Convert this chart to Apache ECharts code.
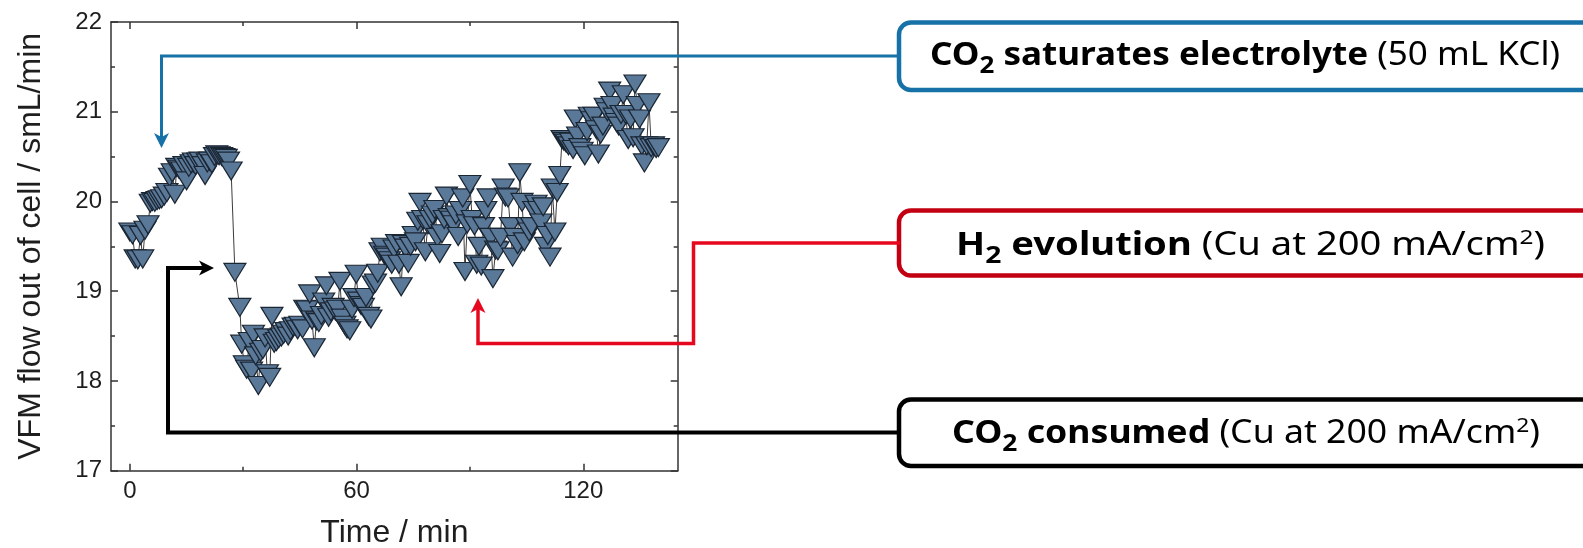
<!DOCTYPE html>
<html>
<head>
<meta charset="utf-8">
<title>VFM flow out of cell</title>
<script src="https://cdn.jsdelivr.net/npm/echarts@6/dist/echarts.min.js"></script>
<style>
  html, body { margin: 0; padding: 0; background: #ffffff; }
  #chart { width: 1583px; height: 548px; }
</style>
</head>
<body>
<div id="chart"></div>
<script>
// Measured flow out of the cell (smL/min) against elapsed time (min)
const timeMin = [
  0.0, 0.7, 1.4, 2.1, 2.8, 3.4, 4.0, 4.8, 5.4, 6.0, 6.6, 7.2, 7.8, 8.4, 9.1, 9.8,
  10.5, 11.2, 11.9, 12.4, 13.0, 13.7, 14.3, 15.0, 15.6, 16.2, 16.8, 17.4, 18.0, 18.6,
  19.3, 19.9, 20.5, 21.1, 21.7, 22.4, 23.0, 23.6, 24.3, 24.9, 25.5, 26.1, 26.8,
  27.8, 29.1, 29.6, 30.3, 30.9, 31.6, 32.2, 32.7, 33.3, 34.0, 34.6, 35.2, 35.8, 36.4,
  37.0, 37.6, 38.2, 38.8, 39.4, 40.1, 40.7, 41.3, 41.9, 42.5, 43.2, 43.8, 44.4, 45.0,
  45.7, 46.3, 46.9, 47.6, 48.2, 48.8, 49.4, 50.0, 50.7, 51.3, 52.0, 52.6, 53.2, 53.8,
  54.4, 55.0, 55.6, 56.2, 56.9, 57.5, 58.2, 58.8, 59.3, 59.9, 60.5, 61.2, 61.8, 62.5,
  63.2, 63.8, 64.4, 65.0, 65.6, 66.2, 66.8, 67.4, 68.0, 68.7, 69.3, 69.9, 70.6, 71.2,
  71.8, 72.4, 73.0, 73.7, 74.3, 75.0, 75.6, 76.2, 76.8, 77.5, 78.2, 78.9, 79.5, 80.1,
  80.7, 81.4, 82.0, 82.6, 83.2, 83.8, 84.5, 85.1, 85.7, 86.3, 86.9, 87.5, 88.1, 88.7,
  89.3, 90.0, 90.6, 91.2, 91.8, 92.4, 93.0, 93.6, 94.2, 94.8, 95.5, 96.1, 96.8, 97.4,
  98.1, 98.8, 99.4, 100.1, 100.7, 101.3, 101.9, 102.6, 103.2, 103.8, 104.4, 105.0,
  105.7, 106.3, 106.9, 107.5, 108.2, 108.8, 109.4, 110.0, 110.6, 111.2, 111.8, 112.5,
  113.1, 113.8, 114.4, 114.9, 115.5, 116.1, 116.7, 117.3, 117.9, 118.5, 119.1, 119.7,
  120.4, 121.0, 121.6, 122.3, 122.9, 123.5, 124.0, 124.6, 125.2, 125.8, 126.4, 127.0,
  127.6, 128.2, 128.8, 129.4, 130.0, 130.6, 131.2, 131.9, 132.5, 133.2, 133.7, 134.3,
  134.9, 135.5, 136.2, 136.8, 137.4, 138.0, 138.6, 139.3, 139.9
];
const flowOut = [
  19.66, 19.63, 19.36, 19.35, 19.62, 19.36, 19.68, 19.74, 19.98, 20.00, 19.99, 20.01, 20.02, 20.03, 20.06, 20.10,
  20.27, 20.32, 20.08, 20.38, 20.36, 20.34, 20.40, 20.23, 20.38, 20.42, 20.44, 20.40, 20.44, 20.45,
  20.40, 20.29, 20.43, 20.45, 20.42, 20.50, 20.52, 20.51, 20.50, 20.49, 20.48, 20.45, 20.34,
  19.21, 18.82, 18.41, 18.18, 18.13, 18.44, 18.11, 18.52, 18.28, 17.95, 18.32, 18.35, 18.48, 18.08,
  18.04, 18.72, 18.42, 18.44, 18.47, 18.49, 18.52, 18.55, 18.50, 18.56, 18.60, 18.61, 18.57, 18.62,
  18.58, 18.80, 18.79, 18.97, 18.68, 18.37, 18.67, 18.65, 18.73, 18.88, 19.06, 18.71, 18.77, 18.82,
  18.78, 18.80, 19.11, 18.70, 18.62, 18.58, 18.56, 18.80, 18.93, 19.19, 18.89, 18.84, 18.82, 18.93,
  18.72, 18.69, 19.07, 19.09, 19.20, 19.44, 19.49, 19.40, 19.38, 19.34, 19.30, 19.47, 19.53, 19.30,
  19.05, 19.52, 19.48, 19.31, 19.50, 19.62, 19.55, 19.78, 19.99, 19.80, 19.44, 19.74, 19.80, 19.85,
  19.91, 19.60, 19.42, 19.64, 19.80, 20.06, 19.82, 19.79, 19.74, 19.85, 19.61, 19.90, 20.04, 19.22,
  19.75, 20.19, 19.80, 19.73, 19.30, 19.50, 19.28, 19.72, 19.90, 20.04, 19.60, 19.14, 19.46, 19.45,
  19.60, 20.15, 20.05, 20.04, 19.72, 19.38, 19.60, 19.52, 20.32, 19.99, 19.55, 19.72,
  19.66, 19.72, 19.90, 19.97, 19.90, 19.76, 19.94, 19.50, 19.62, 19.38, 20.15, 19.66,
  20.10, 20.29, 20.69, 20.67, 20.65, 20.62, 20.66, 20.58, 20.92, 20.73, 20.60, 20.56,
  20.51, 20.78, 20.95, 20.90, 20.95, 20.80, 20.53, 20.75, 20.84, 21.05, 21.00, 21.23,
  21.07, 20.94, 20.88, 20.84, 20.97, 21.19, 20.97, 20.69, 20.92, 20.71, 21.31, 21.07,
  20.92, 20.62, 20.43, 20.62, 21.10, 20.60, 20.62, 20.59, 20.60
];

// Axis tick positions
const xMajorTicks = [0, 60, 120];
const xMinorTicks = [30, 90];

const axisColor = '#333333';
const textColor = '#1e1e1e';
const axisFont = '"Liberation Sans", Arial, sans-serif';
const noteFont = '"Noto Sans", "Open Sans", sans-serif';

const points = timeMin.map((t, i) => [t, flowOut[i]]);

function xAxisDef(position, ticks, tickLen, withLine, withLabels) {
  const def = {
    type: 'value', position: position, min: -5, max: 145,
    axisLine: { show: withLine, onZero: false, lineStyle: { color: axisColor, width: 1.5 } },
    axisTick: { show: true, inside: true, length: tickLen, customValues: ticks,
                lineStyle: { color: axisColor, width: 1.5 } },
    axisLabel: withLabels
      ? { show: true, customValues: ticks, fontSize: 24, color: textColor, margin: 9, fontFamily: axisFont }
      : { show: false },
    splitLine: { show: false }, minorTick: { show: false }, minorSplitLine: { show: false }
  };
  if (withLabels) {
    def.name = 'Time / min';
    def.nameLocation = 'middle';
    def.nameGap = 46;
    def.nameTextStyle = { fontSize: 32, color: textColor, fontFamily: axisFont };
  }
  return def;
}

function yAxisDef(position, withLabels) {
  const def = {
    type: 'value', position: position, min: 17, max: 22, interval: 1,
    axisLine: { show: true, onZero: false, lineStyle: { color: axisColor, width: 1.5 } },
    axisTick: { show: true, inside: true, length: 7, lineStyle: { color: axisColor, width: 1.5 } },
    minorTick: { show: true, splitNumber: 2, length: 4, lineStyle: { color: axisColor, width: 1.5 } },
    axisLabel: withLabels
      ? { show: true, fontSize: 24, color: textColor, margin: 9, fontFamily: axisFont }
      : { show: false },
    splitLine: { show: false }, minorSplitLine: { show: false }
  };
  if (withLabels) {
    def.name = 'VFM flow out of cell / smL/min';
    def.nameLocation = 'middle';
    def.nameGap = 64;
    def.nameTextStyle = { fontSize: 32, color: textColor, fontFamily: axisFont };
  }
  return def;
}

// ---- annotation text: bold lead, sub/superscripts, regular remainder ----
const measureCtx = document.createElement('canvas').getContext('2d');
function fontStr(bold, size) {
  return (bold ? 'bold ' : 'normal ') + size.toFixed(2) + 'px ' + noteFont;
}
function middleToBaseline(bold, size) {
  measureCtx.font = fontStr(bold, size);
  measureCtx.textBaseline = 'alphabetic';
  const a = measureCtx.measureText('H').actualBoundingBoxAscent;
  measureCtx.textBaseline = 'middle';
  const b = measureCtx.measureText('H').actualBoundingBoxAscent;
  return a - b;
}
function pieceSize(p, size) {
  return p.script === 'sub' ? size * 0.74 : (p.script === 'sup' ? size * 0.64 : size);
}
function runWidth(parts, size) {
  return parts.reduce((acc, p) => {
    measureCtx.font = fontStr(p.bold, pieceSize(p, size));
    return acc + measureCtx.measureText(p.text).width;
  }, 0);
}
// text run laid out from left to right, scaled horizontally to span that width
function noteText(parts, left, right, baseline, size, color) {
  const k = (right - left) / runWidth(parts, size);
  let x = left;
  return parts.map(p => {
    const s = pieceSize(p, size);
    measureCtx.font = fontStr(p.bold, s);
    const w = measureCtx.measureText(p.text).width * k;
    const dy = p.script === 'sub' ? size * 0.25 : (p.script === 'sup' ? -size * 0.34 : 0);
    const el = {
      type: 'text', z: 110, x: x, y: baseline + dy - middleToBaseline(p.bold, s), scaleX: k,
      style: { text: p.text, font: fontStr(p.bold, s), fill: color,
               align: 'left', verticalAlign: 'middle', textAlign: 'left', textVerticalAlign: 'middle' }
    };
    x += w;
    return el;
  });
}

function noteBox(y, h, stroke) {
  return { type: 'rect', z: 100, shape: { x: 899, y: y, width: 760, height: h, r: 12 },
           style: { fill: '#ffffff', stroke: stroke, lineWidth: 4.5 } };
}
function connector(pts, color, width) {
  return { type: 'polyline', z: 105, shape: { points: pts },
           style: { stroke: color, lineWidth: width, fill: null, lineJoin: 'miter', lineCap: 'butt' } };
}
// arrow head: tip point, direction ('down' | 'up' | 'right')
function arrowHead(tx, ty, dir, color) {
  const L = 15, W = 7.5, N = 4;
  let pts;
  if (dir === 'down') pts = [[tx, ty], [tx - W, ty - L], [tx, ty - L + N], [tx + W, ty - L]];
  else if (dir === 'up') pts = [[tx, ty], [tx - W, ty + L], [tx, ty + L - N], [tx + W, ty + L]];
  else pts = [[tx, ty], [tx - L, ty - W], [tx - L + N, ty], [tx - L, ty + W]];
  return { type: 'polygon', z: 106, shape: { points: pts }, style: { fill: color, stroke: null } };
}

const blue = '#1671a8';
const boxRed = '#c20012';
const lineRed = '#e6081f';
const black = '#000000';

const note1 = [
  { text: 'CO', bold: true }, { text: '2', bold: true, script: 'sub' },
  { text: ' saturates electrolyte', bold: true }, { text: ' (50 mL KCl)', bold: false }
];
const note2 = [
  { text: 'H', bold: true }, { text: '2', bold: true, script: 'sub' },
  { text: ' evolution', bold: true }, { text: ' (Cu at 200 mA/cm', bold: false },
  { text: '2', bold: false, script: 'sup' }, { text: ')', bold: false }
];
const note3 = [
  { text: 'CO', bold: true }, { text: '2', bold: true, script: 'sub' },
  { text: ' consumed', bold: true }, { text: ' (Cu at 200 mA/cm', bold: false },
  { text: '2', bold: false, script: 'sup' }, { text: ')', bold: false }
];
const noteSize = 32;

const graphics = [
  connector([[900, 56], [161.5, 56], [161.5, 139]], blue, 3),
  arrowHead(161.5, 148, 'down', blue),
  connector([[900, 243], [693.5, 243], [693.5, 343.5], [478, 343.5], [478, 306]], lineRed, 3.5),
  arrowHead(478, 298, 'up', lineRed),
  connector([[900, 432.5], [168, 432.5], [168, 268], [205, 268]], black, 4),
  arrowHead(214, 268, 'right', black),
  noteBox(22.5, 67.5, blue),
  noteBox(210.5, 65, boxRed),
  noteBox(399.5, 66.5, black)
].concat(
  noteText(note1, 930, 1560, 65, noteSize, '#000'),
  noteText(note2, 956, 1545, 254.5, noteSize, '#000'),
  noteText(note3, 952, 1540, 443, noteSize, '#000')
);

const chart = echarts.init(document.getElementById('chart'), null, { renderer: 'canvas' });
chart.setOption({
  animation: false,
  backgroundColor: '#ffffff',
  grid: { left: 111, top: 22, right: 905.3, bottom: 77.3, containLabel: false, outerBoundsMode: 'none' },
  xAxis: [
    xAxisDef('bottom', xMajorTicks, 7, true, true),
    xAxisDef('bottom', xMinorTicks, 4, false, false),
    xAxisDef('top', xMajorTicks, 7, true, false),
    xAxisDef('top', xMinorTicks, 4, false, false)
  ],
  yAxis: [
    yAxisDef('left', true),
    yAxisDef('right', false)
  ],
  series: [{
    type: 'line',
    xAxisIndex: 0, yAxisIndex: 0,
    data: points,
    symbol: 'triangle',
    symbolRotate: 180,
    symbolSize: [22, 18],
    showSymbol: true,
    showAllSymbol: true,
    lineStyle: { color: '#3c3c3c', width: 1 },
    itemStyle: { color: '#5a7898', borderColor: '#1b2633', borderWidth: 1.2 },
    emphasis: { disabled: true },
    silent: true
  }],
  graphic: graphics
});
</script>
</body>
</html>
